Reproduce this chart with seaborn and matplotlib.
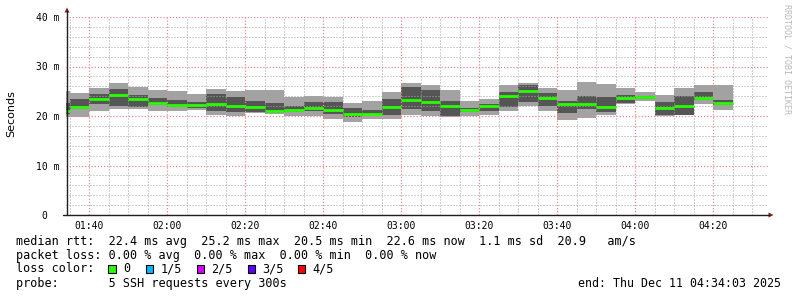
import numpy as np
import pandas as pd
import matplotlib
matplotlib.use("Agg")
import matplotlib.pyplot as plt
import seaborn as sns
from matplotlib.patches import Rectangle, Polygon
from matplotlib.lines import Line2D

# ---------------- data ----------------
bin_start = ["01:34:03", "01:35", "01:40", "01:45", "01:50", "01:55", "02:00", "02:05",
             "02:10", "02:15", "02:20", "02:25", "02:30", "02:35", "02:40", "02:45",
             "02:50", "02:55", "03:00", "03:05", "03:10", "03:15", "03:20", "03:25",
             "03:30", "03:35", "03:40", "03:45", "03:50", "03:55", "04:00", "04:05",
             "04:10", "04:15", "04:20"]
last_end = "04:25"
ping_min = [19.8, 19.7, 21.1, 21.5, 21.4, 21.1, 21.0, 21.3, 20.2, 20.0, 20.6, 20.4, 20.0, 20.1,
            19.45, 18.7, 19.3, 19.3, 20.2, 20.0, 19.7, 19.9, 20.2, 21.1, 22.0, 21.1, 19.1,
            19.6, 20.2, 22.4, 23.1, 19.9, 20.3, 22.4, 21.2]
ping_q1 = [20.5, 21.5, 22.4, 22.1, 21.8, 22.3, 21.9, 21.6, 21.0, 20.8, 20.8, 20.7, 20.8, 21.0,
           20.5, 19.8, 20.3, 20.2, 21.4, 21.0, 20.0, 20.8, 21.0, 21.9, 22.8, 22.0, 20.7,
           21.5, 20.8, 22.6, 23.4, 20.3, 20.3, 23.2, 22.2]
ping_med = [21.1, 21.9, 23.4, 24.2, 23.4, 22.7, 22.3, 22.3, 22.5, 22.0, 21.8, 21.1, 21.2, 21.55,
            21.3, 20.5, 20.5, 21.9, 23.2, 22.9, 22.0, 21.2, 22.0, 24.0, 25.1, 23.6, 22.35,
            22.35, 21.75, 23.6, 23.8, 21.55, 22.0, 23.6, 22.6]
ping_q3 = [22.7, 23.4, 24.4, 25.5, 24.2, 23.6, 23.2, 22.9, 24.4, 23.8, 23.0, 22.6, 22.0, 22.8,
           22.8, 21.6, 21.2, 23.4, 25.8, 25.2, 23.0, 21.7, 22.4, 24.9, 26.2, 24.6, 23.0,
           24.0, 23.8, 24.2, 24.0, 22.8, 24.0, 24.85, 23.3]
ping_max = [25.0, 24.6, 25.7, 26.7, 25.9, 25.2, 25.0, 24.4, 25.5, 25.1, 25.2, 25.2, 23.8, 24.0,
            23.8, 22.6, 23.0, 24.85, 26.7, 26.3, 25.2, 23.0, 23.4, 26.3, 26.7, 25.7, 25.2,
            26.9, 26.5, 25.7, 24.85, 24.2, 25.7, 26.3, 26.3]

x_ticks = ["01:40", "02:00", "02:20", "02:40", "03:00", "03:20", "03:40", "04:00", "04:20"]
y_ticks = [0, 10, 20, 30, 40]
y_tick_labels = ["0  ", "10 m", "20 m", "30 m", "40 m"]
window = ("01:34:03", "04:34:03")

legend_lines = [
    "median rtt:  22.4 ms avg  25.2 ms max  20.5 ms min  22.6 ms now  1.1 ms sd  20.9   am/s",
    "packet loss: 0.00 % avg  0.00 % max  0.00 % min  0.00 % now",
    "loss color:",
    "probe:       5 SSH requests every 300s",
]
loss_labels = ["0", "1/5", "2/5", "3/5", "4/5"]
loss_colors = ["#26ff00", "#00b8ff", "#d200ff", "#5e00ff", "#ff0000"]
end_text = "end: Thu Dec 11 04:34:03 2025"


def to_min(s):
    p = [float(v) for v in s.split(":")]
    return p[0] * 60 + p[1] + (p[2] / 60 if len(p) > 2 else 0)


starts = np.array([to_min(s) for s in bin_start])
ends = np.append(starts[1:], to_min(last_end))
df = pd.DataFrame({"start": starts, "end": ends, "min": ping_min, "q1": ping_q1,
                   "med": ping_med, "q3": ping_q3, "max": ping_max})
df["bin"] = np.arange(len(df))
long = pd.concat([df.assign(t=df["start"]), df.assign(t=df["end"])]).sort_values(["bin", "t"])

# ---------------- figure ----------------
sns.set_theme(style="white")
plt.rcParams["font.family"] = ["DejaVu Sans"]
MONO = "DejaVu Sans Mono"

W, H = 797, 297
fig = plt.figure(figsize=(W / 100, H / 100), dpi=100)
fig.patch.set_facecolor("white")


def fx(x):
    return x / W


def fy(y):
    return 1 - y / H


ax = fig.add_axes([fx(66), fy(215), fx(768) - fx(66), fy(17) - fy(215)])
ax.set_facecolor("white")
ax.set_xlim(to_min(window[0]), to_min(window[1]))
ax.set_ylim(0, 40)

light, dark = "#a2a2a2", "#555555"
xs = np.append(starts, ends[-1])
ax.fill_between(xs, np.append(ping_min, ping_min[-1]), np.append(ping_max, ping_max[-1]),
                step="post", color=light, lw=0, zorder=1)
ax.fill_between(xs, np.append(ping_q1, ping_q1[-1]), np.append(ping_q3, ping_q3[-1]),
                step="post", color=dark, lw=0, zorder=1.5)
sns.lineplot(data=long, x="t", y="med", units="bin", estimator=None, color=loss_colors[0],
             lw=2.0, solid_capstyle="butt", ax=ax, legend=False, zorder=3)

# ticks & grid
maj_x = [to_min(s) for s in x_ticks]
ax.set_xticks(maj_x)
ax.set_xticklabels(x_ticks, fontfamily=MONO, fontsize=7, color="black")
minor_x = [m for m in np.arange(95, 275, 5) if m not in maj_x]
ax.set_xticks(minor_x, minor=True)
ax.set_yticks(y_ticks)
ax.set_yticklabels(y_tick_labels, fontfamily=MONO, fontsize=7, color="black")
ax.set_yticks([v for v in range(2, 40, 2) if v % 10], minor=True)
ax.tick_params(axis="both", which="both", length=0)
ax.tick_params(axis="x", pad=4)
ax.tick_params(axis="y", pad=4.5)
ax.grid(which="major", color="#e88a8a", ls=(0, (1, 1.5)), lw=0.9)
ax.grid(which="minor", color="#a4a4a4", ls=(0, (1, 2)), lw=0.72)
ax.set_axisbelow(False)
for s in ax.spines.values():
    s.set_visible(False)
ax.set_xlabel("")
ax.set_ylabel("")

# axes lines and arrows (pixel coords)
axis_col, arrow_col = "#1f1f1f", "#801f1f"
fig.add_artist(Line2D([fx(67), fx(67)], [fy(215), fy(11)], color=axis_col, lw=1.0))
fig.add_artist(Line2D([fx(63), fx(769)], [fy(215), fy(215)], color=axis_col, lw=1.0))
fig.add_artist(Polygon([[fx(64.5), fy(12.5)], [fx(69.5), fy(12.5)], [fx(67), fy(7.5)]],
                       closed=True, color=arrow_col, lw=0))
fig.add_artist(Polygon([[fx(768.5), fy(212.5)], [fx(768.5), fy(217.5)], [fx(773.5), fy(215)]],
                       closed=True, color=arrow_col, lw=0))

# labels
fig.text(fx(11), fy(114), "Seconds", rotation=90, ha="center", va="center", fontsize=8,
         color="black")
fig.text(fx(786.5), fy(59.5), "RRDTOOL / TOBI OETIKER", rotation=270, ha="center",
         va="center", fontsize=6, fontfamily=MONO, color="#b8b8b8")

line_y = [241, 255, 269, 283.5]
for txt, yy in zip(legend_lines, line_y):
    fig.text(fx(16), fy(yy), txt, ha="left", va="center", fontsize=8.5, fontfamily=MONO,
             color="black")
fig.text(fx(578), fy(line_y[3]), end_text, ha="left", va="center", fontsize=8.4,
         fontfamily=MONO, color="black")

box_x = [108.3, 145.7, 196.7, 247.7, 297.7]
txt_x = [123, 160.5, 211.5, 262.5, 312.5]
for bx, tx, lab, col in zip(box_x, txt_x, loss_labels, loss_colors):
    fig.add_artist(Rectangle((fx(bx), fy(272.5)), fx(7.5), fy(265) - fy(272.5),
                             facecolor=col, edgecolor="black", lw=0.8))
    fig.text(fx(tx), fy(line_y[2]), lab, ha="left", va="center", fontsize=8.5,
             fontfamily=MONO, color="black")

fig.savefig("out.png", dpi=100, facecolor="white")
